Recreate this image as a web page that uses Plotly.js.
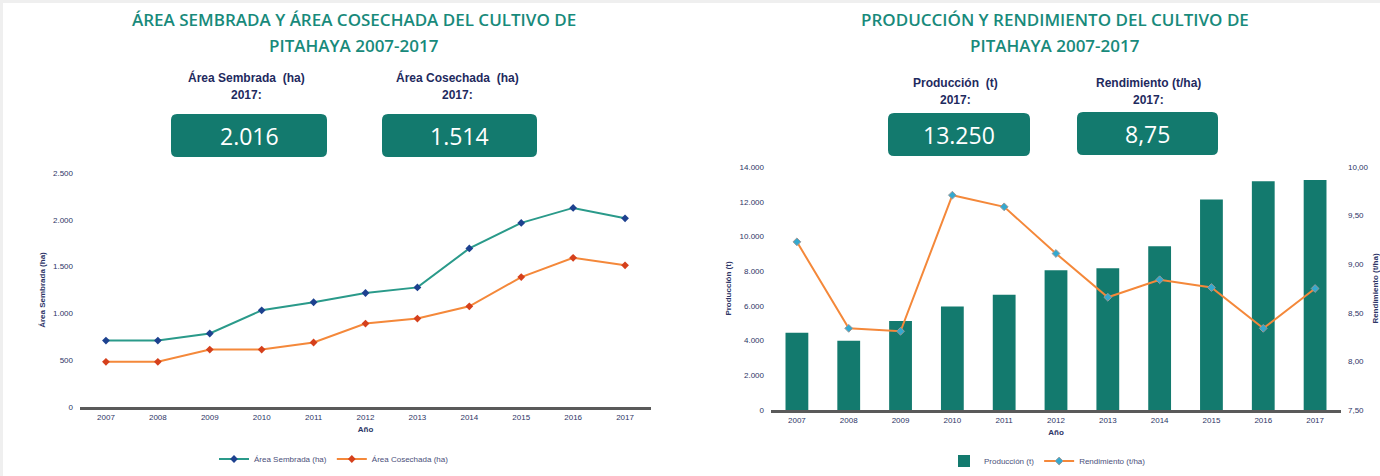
<!DOCTYPE html>
<html><head><meta charset="utf-8">
<script src="https://cdn.plot.ly/plotly-3.0.1.min.js"></script>
<style>html,body{margin:0;padding:0;background:#fff}#chart{width:1380px;height:476px}</style>
</head><body><div id="chart"></div>
<script>
var years = ['2007','2008','2009','2010','2011','2012','2013','2014','2015','2016','2017'];
var areaSembrada = [710,710,785,1033,1119,1218,1278,1694,1967,2127,2016];
var areaCosechada = [483,483,614,614,689,891,945,1076,1388,1594,1514];
var produccion = [4449,3989,5121,5964,6636,8055,8170,9436,12121,13175,13250];
var rendimiento = [9.23,8.34,8.31,9.71,9.59,9.11,8.66,8.84,8.76,8.34,8.75];

var W=1380,H=476;
function px(x){return x/W;} function py(y){return 1-y/H;}
function fmtInt(v){return String(Math.round(v)).replace(/\B(?=(\d{3})+(?!\d))/g,'.');}
function fmtDec(v){return v.toFixed(2).replace('.',',');}
function roundRect(x0,y0,x1,y1,r){
  var rx=r/W, ry=r/H;
  var X0=px(x0),X1=px(x1),Y0=py(y0),Y1=py(y1);
  return 'M'+(X0+rx)+','+Y0+' L'+(X1-rx)+','+Y0+' Q'+X1+','+Y0+' '+X1+','+(Y0-ry)+
    ' L'+X1+','+(Y1+ry)+' Q'+X1+','+Y1+' '+(X1-rx)+','+Y1+' L'+(X0+rx)+','+Y1+
    ' Q'+X0+','+Y1+' '+X0+','+(Y1+ry)+' L'+X0+','+(Y0-ry)+' Q'+X0+','+Y0+' '+(X0+rx)+','+Y0+' Z';
}
var teal='#137a6e', navy='#1e2a5e', titleTeal='#188a7b';
var tickFont={family:'Liberation Sans, Arial, sans-serif',size:8,color:'#2d3566'};
var axTitleFont={family:'Liberation Sans, Arial, sans-serif',size:8,color:'#2d3566',weight:'bold'};

var traces=[
 {x:years,y:areaSembrada,type:'scatter',mode:'lines+markers',name:'Área Sembrada (ha)',
  line:{color:'#2a9a8a',width:2},marker:{symbol:'diamond',size:6,color:'#1d418f'},xaxis:'x',yaxis:'y',legend:'legend'},
 {x:years,y:areaCosechada,type:'scatter',mode:'lines+markers',name:'Área Cosechada (ha)',
  line:{color:'#f4883a',width:2},marker:{symbol:'diamond',size:6,color:'#d5401c'},xaxis:'x',yaxis:'y',legend:'legend'},
 {x:years,y:produccion,type:'bar',name:'Producción (t)',marker:{color:teal},width:0.44,xaxis:'x2',yaxis:'y2',legend:'legend2'},
 {x:years,y:rendimiento,type:'scatter',mode:'lines+markers',name:'Rendimiento (t/ha)',
  line:{color:'#f4883a',width:2},marker:{symbol:'diamond',size:6,color:'#34a9cf',line:{color:'#9a9a9a',width:1}},xaxis:'x2',yaxis:'y3',legend:'legend2'}
];

var layout={
 width:W,height:H,margin:{l:0,r:0,t:0,b:0},paper_bgcolor:'#fff',plot_bgcolor:'rgba(0,0,0,0)',
 separators:',.',showlegend:true,
 font:{family:'Liberation Sans, Arial, sans-serif'},
 xaxis:{domain:[px(80),px(651)],anchor:'y',type:'category',range:[-0.5,10.5],showline:true,linecolor:'#5a5a5a',linewidth:3,
   ticks:'',tickfont:tickFont,showgrid:false,zeroline:false,
   title:{text:'Año',font:axTitleFont,standoff:6},automargin:false},
 yaxis:{domain:[py(407),py(173)],anchor:'x',range:[0,2500],tickvals:[0,500,1000,1500,2000,2500],tickformat:',d',
   showgrid:false,zeroline:false,showline:false,tickfont:tickFont,ticks:'',ticklabelstandoff:6,
   title:{text:'Área Sembrada (ha)',font:axTitleFont,standoff:6},automargin:false},
 xaxis2:{domain:[px(771),px(1341)],anchor:'y2',type:'category',range:[-0.5,10.5],showline:true,linecolor:'#5a5a5a',linewidth:3,
   ticks:'',tickfont:tickFont,showgrid:false,zeroline:false,
   title:{text:'Año',font:axTitleFont,standoff:6},automargin:false},
 yaxis2:{domain:[py(410),py(167)],anchor:'x2',range:[0,14000],tickvals:[0,2000,4000,6000,8000,10000,12000,14000],tickformat:',d',
   showgrid:false,zeroline:false,showline:false,tickfont:tickFont,ticks:'',ticklabelstandoff:6,
   title:{text:'Producción (t)',font:axTitleFont,standoff:6},automargin:false},
 yaxis3:{domain:[py(410),py(167)],anchor:'x2',overlaying:'y2',side:'right',range:[7.5,10],tickvals:[7.5,8,8.5,9,9.5,10],tickformat:'.2f',
   showgrid:false,zeroline:false,showline:false,tickfont:tickFont,ticks:'',ticklabelstandoff:6,
   title:{text:'Rendimiento (t/ha)',font:axTitleFont,standoff:12},automargin:false},
 legend:{orientation:'h',x:px(214),y:py(459),xanchor:'left',yanchor:'middle',font:{size:8,color:'#4a4f7a'},bgcolor:'rgba(0,0,0,0)',itemwidth:30},
 legend2:{orientation:'h',x:px(944),y:py(461),xanchor:'left',yanchor:'middle',font:{size:8,color:'#4a4f7a'},bgcolor:'rgba(0,0,0,0)',itemwidth:30},
 shapes:[
  {type:'rect',xref:'paper',yref:'paper',x0:0,x1:1,y0:py(3),y1:1,fillcolor:'#efefef',line:{width:0},layer:'below'},
  {type:'rect',xref:'paper',yref:'paper',x0:0,x1:px(3),y0:0,y1:1,fillcolor:'#efefef',line:{width:0},layer:'below'},
  {type:'path',xref:'paper',yref:'paper',path:roundRect(171,114,327,157,6),fillcolor:teal,line:{width:0}},
  {type:'path',xref:'paper',yref:'paper',path:roundRect(382,114,537,157,6),fillcolor:teal,line:{width:0}},
  {type:'path',xref:'paper',yref:'paper',path:roundRect(888,113,1030,156,6),fillcolor:teal,line:{width:0}},
  {type:'path',xref:'paper',yref:'paper',path:roundRect(1077,112,1218,155,6),fillcolor:teal,line:{width:0}}
 ],
 annotations:[]
};
function ann(text,x,y,font){layout.annotations.push({text:text,xref:'paper',yref:'paper',x:px(x),y:py(y),xanchor:'center',yanchor:'middle',showarrow:false,font:font});}
var tFont={family:'Open Sans, sans-serif',size:17,color:titleTeal,weight:600};
ann('ÁREA SEMBRADA Y ÁREA COSECHADA DEL CULTIVO DE',354,20,tFont);
ann('PITAHAYA 2007-2017',354,45,tFont);
ann('PRODUCCIÓN Y RENDIMIENTO DEL CULTIVO DE',1055,20,tFont);
ann('PITAHAYA 2007-2017',1055,45,tFont);
var lFont={family:'Liberation Sans Narrow, Liberation Sans, Arial, sans-serif',size:12,color:navy,weight:'bold'};
ann('Área Sembrada  (ha)',246,78,lFont); ann('2017:',246,95,lFont);
ann('Área Cosechada  (ha)',457,78,lFont); ann('2017:',457,95,lFont);
ann('Producción  (t)',955,83,lFont); ann('2017:',955,100,lFont);
ann('Rendimiento (t/ha)',1148,83,lFont); ann('2017:',1148,100,lFont);
var kFont={family:'Open Sans, sans-serif',size:23,color:'#ffffff'};
ann(fmtInt(areaSembrada[10]),249,136,kFont);
ann(fmtInt(areaCosechada[10]),459,136,kFont);
ann(fmtInt(produccion[10]),959,135,kFont);
ann(fmtDec(rendimiento[10]),1147,134,kFont);

Plotly.newPlot('chart',traces,layout,{displayModeBar:false,staticPlot:true});
</script></body></html>
